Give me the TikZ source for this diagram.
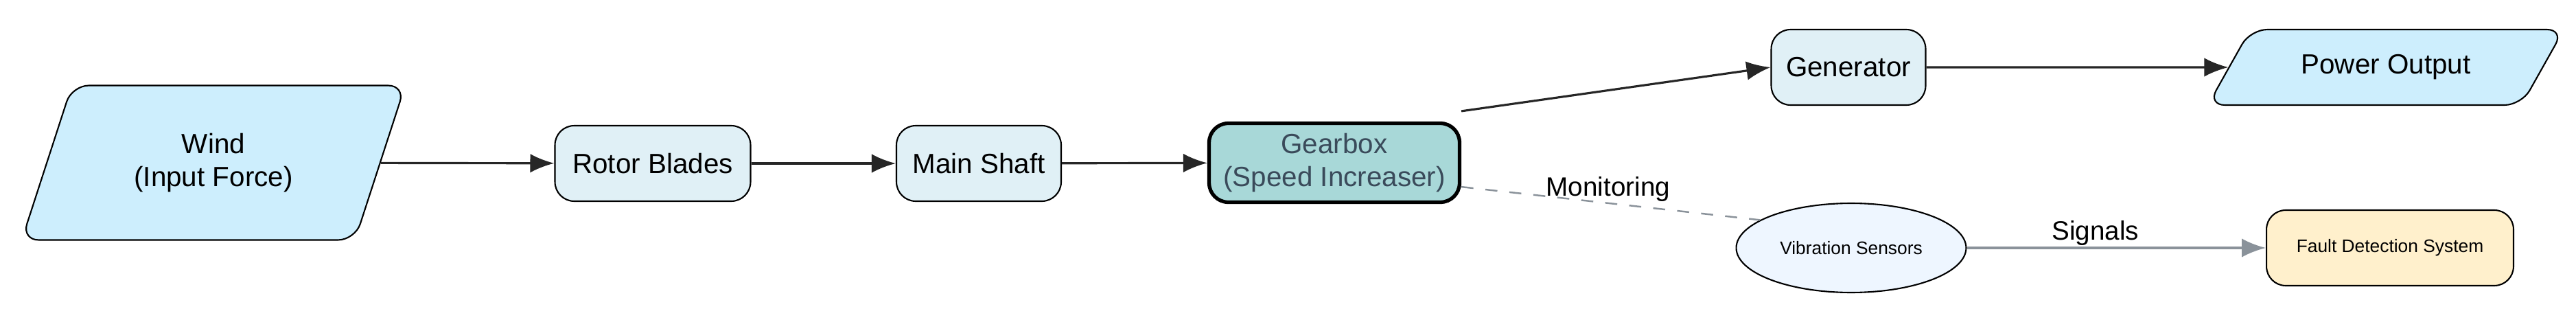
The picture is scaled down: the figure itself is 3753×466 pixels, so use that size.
\documentclass[tikz,border=0pt]{standalone}
\usepackage{fontspec}
\setmainfont{Liberation Sans}
\usetikzlibrary{shapes.geometric,arrows.meta}
\definecolor{windfill}{HTML}{CDEEFD}
\definecolor{partfill}{HTML}{E0F0F6}
\definecolor{gearfill}{HTML}{A8D8D8}
\definecolor{geartext}{HTML}{3A4A5A}
\definecolor{sensfill}{HTML}{EEF6FF}
\definecolor{faultfill}{HTML}{FFF0CC}
\definecolor{sigline}{HTML}{8A929A}
\begin{document}
\begin{tikzpicture}[x=0.02cm, y=-0.02cm,
  io/.style={trapezium, trapezium stretches=true, draw, line width=1.2pt,
    fill=windfill, rounded corners=14pt, align=center, font=\fontsize{23}{27}\selectfont},
  part/.style={draw, line width=1.2pt, rounded corners=16pt, fill=partfill,
    minimum height=2.2cm, align=center, font=\fontsize{23}{27}\selectfont},
  flow/.style={line width=1.8pt, draw=black!85, -{Latex[length=0.7cm,width=0.55cm]}},
  lbl/.style={font=\fontsize{22}{26}\selectfont}
]
\useasboundingbox (0,0) rectangle (3753,466);

% --- main chain ---
\node[io, trapezium left angle=66, trapezium right angle=114,
  minimum width=11.2cm, minimum height=4.5cm] (wind) at (311,237) {Wind\\(Input Force)};
\node[part, minimum width=5.7cm] (rotor) at (951,238) {Rotor Blades};
\node[part, minimum width=4.8cm] (shaft) at (1426,238) {Main Shaft};
\node[part, minimum width=7.3cm, minimum height=2.3cm, line width=3pt, fill=gearfill,
  text=geartext] (gear) at (1944,237) {Gearbox\\(Speed Increaser)};
\node[part, minimum width=4.5cm] (gen) at (2693,98) {Generator};
\node[io, trapezium left angle=50, trapezium right angle=130,
  minimum width=10.4cm, minimum height=2.2cm] (power) at (3476,98) {Power Output};

% --- monitoring branch ---
\node[ellipse, draw, line width=1.2pt, fill=sensfill, minimum width=6.7cm,
  minimum height=2.6cm, font=\fontsize{15}{18}\selectfont] (sens) at (2697,361) {Vibration Sensors};
\node[part, minimum width=7.2cm, fill=faultfill,
  font=\fontsize{15}{18}\selectfont] (fault) at (3482,361) {Fault Detection System};

% --- connectors ---
\draw[flow] (wind) -- (rotor);
\draw[flow] (rotor) -- (shaft);
\draw[flow] (shaft) -- (gear);
\draw[flow] (gear.north east) ++(0,-15) coordinate (gearout) -- (gen.west);
\draw[flow] (gen) -- (power);
\draw[line width=1.4pt, draw=sigline, dashed, dash pattern=on 10pt off 10pt]
  (gear.south east) ++(0,-25) coordinate (gearmon) -- (sens.163)
  node[lbl, pos=0.3, above right=-8pt] {Monitoring};
\draw[line width=1.8pt, draw=sigline, -{Latex[length=0.7cm,width=0.55cm]}] (sens) -- (fault)
  node[lbl, pos=0.43, above=-2pt] {Signals};

\end{tikzpicture}
\end{document}
